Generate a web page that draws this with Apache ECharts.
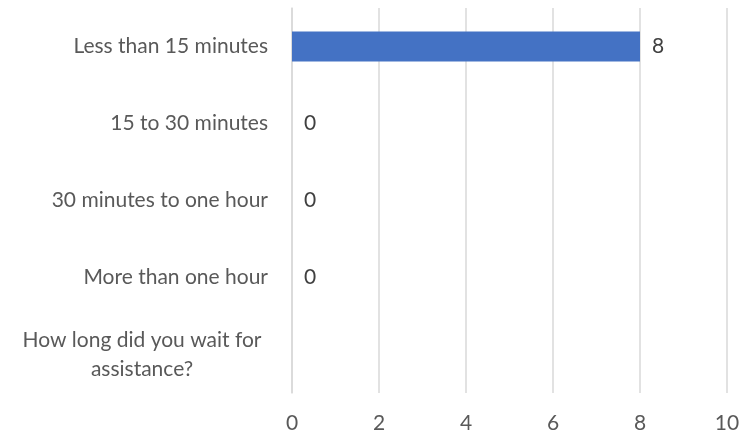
<!DOCTYPE html>
<html>
<head>
<meta charset="utf-8">
<script src="https://cdn.jsdelivr.net/npm/echarts@6/dist/echarts.min.js"></script>
<style>
    html, body { margin: 0; padding: 0; background: #fff; }
    #chart { width: 754px; height: 437px; }
</style>
</head>
<body>
<div id="chart"></div>
<script>
// categories top to bottom, as in the picture
const categories = [
    'Less than 15 minutes',
    '15 to 30 minutes',
    '30 minutes to one hour',
    'More than one hour',
    'How long did you wait for\nassistance?'
];
// the last row has no value
const counts = [8, 0, 0, 0, null];
const xTicks = [0, 2, 4, 6, 8, 10];

const myChart = echarts.init(document.getElementById('chart'));

const font = 'Lato, "Liberation Sans", sans-serif';

const option = {
    animation: false,
    grid: {
        left: 292,
        right: 27,
        top: 8,
        bottom: 44
    },
    xAxis: {
        type: 'value',
        min: xTicks[0],
        max: xTicks[xTicks.length - 1],
        interval: 2,
        axisLine: { show: false },
        axisTick: { show: false },
        axisLabel: {
            color: '#595959',
            fontFamily: font,
            fontSize: 21,
            margin: 20
        },
        splitLine: {
            lineStyle: { color: '#d9d9d9', width: 1.5 }
        }
    },
    yAxis: {
        type: 'category',
        inverse: true,
        data: categories,
        axisLine: {
            show: true,
            lineStyle: { color: '#d9d9d9', width: 1.5 }
        },
        axisTick: { show: false },
        axisLabel: {
            margin: 24,
            color: '#595959',
            fontFamily: font,
            fontSize: 21,
            formatter: function (v) {
                if (v.indexOf('\n') >= 0) {
                    return v.split('\n').map(function (s) { return '{c|' + s + '}'; }).join('\n');
                }
                return v;
            },
            rich: {
                c: {
                    width: 252,
                    align: 'center',
                    color: '#595959',
                    fontFamily: font,
                    fontSize: 21,
                    lineHeight: 29
                }
            }
        }
    },
    series: [
        {
            type: 'bar',
            data: counts,
            barWidth: 30,
            itemStyle: { color: '#4472c4' },
            label: {
                show: true,
                position: 'right',
                distance: 12,
                color: '#404040',
                fontFamily: font,
                fontSize: 21
            }
        }
    ]
};

myChart.setOption(option);
</script>
</body>
</html>
